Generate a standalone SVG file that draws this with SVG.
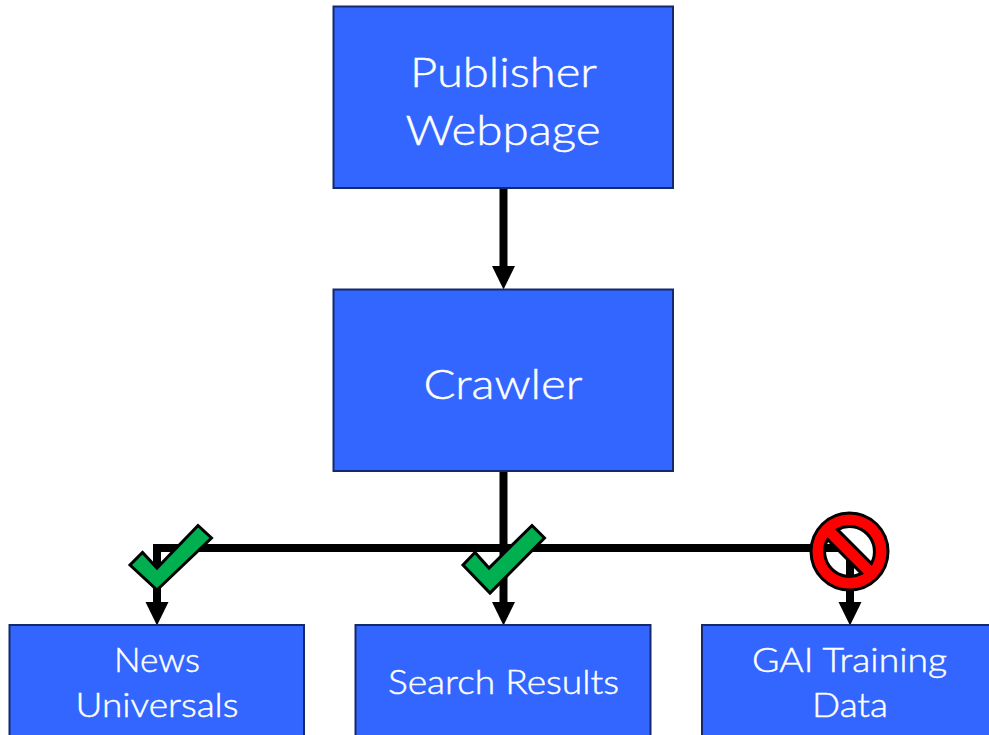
<svg xmlns="http://www.w3.org/2000/svg" width="989" height="735" viewBox="0 0 989 735">
<style>
.box{fill:#3366ff;stroke:#14296b;stroke-width:2}
.t{font-family:"Lato","Noto Sans",sans-serif;fill:#fff;stroke:#fff;stroke-width:.45;text-anchor:middle;font-weight:300}
.l{font-size:42px}
.s{font-size:33px}
.c{fill:none;stroke:#000;stroke-width:8}
.m{fill:#00b050;stroke:#000;stroke-width:3;stroke-linejoin:miter}
</style>
<defs>
<marker id="a" markerUnits="userSpaceOnUse" markerWidth="24" markerHeight="24" refX="8" refY="12" orient="auto" viewBox="0 0 24 24"><path d="M0 0.500L23.500 12L0 23.500Z" fill="#000"/></marker>
</defs>
<rect width="989" height="735" fill="#fff"/>
<g id="connectors">
<path class="c" d="M503.500 188V274" marker-end="url(#a)"/>
<path class="c" d="M503.500 471V610" marker-end="url(#a)"/>
<path class="c" d="M157 610V548H850V610" marker-end="url(#a)"/>
<path class="c" d="M157 548V610" marker-end="url(#a)"/>
</g>
<g id="publisher-webpage"><rect class="box" x="333.500" y="6.500" width="339.500" height="181.500"/>
<text class="t l" x="503.500" y="86.500" textLength="187" lengthAdjust="spacingAndGlyphs">Publisher</text>
<text class="t l" x="503" y="144.500" textLength="195" lengthAdjust="spacingAndGlyphs">Webpage</text></g>
<g id="crawler"><rect class="box" x="333.500" y="289.500" width="339.500" height="181.500"/>
<text class="t l" x="503" y="398.500" textLength="159" lengthAdjust="spacingAndGlyphs">Crawler</text></g>
<g id="news-universals"><rect class="box" x="9.500" y="625" width="294.500" height="130"/>
<text class="t s" x="157" y="672" textLength="86" lengthAdjust="spacingAndGlyphs">News</text>
<text class="t s" x="157" y="717" textLength="163" lengthAdjust="spacingAndGlyphs">Universals</text></g>
<g id="search-results"><rect class="box" x="355.500" y="625" width="295" height="130"/>
<text class="t s" x="503.500" y="694" textLength="231" lengthAdjust="spacingAndGlyphs">Search Results</text></g>
<g id="gai-training-data"><rect class="box" x="702" y="625" width="295" height="130"/>
<text class="t s" x="849.500" y="672" textLength="195" lengthAdjust="spacingAndGlyphs">GAI Training</text>
<text class="t s" x="850" y="717" textLength="76" lengthAdjust="spacingAndGlyphs">Data</text></g>
<g id="check-news"><path class="m" d="M198 525.500L211.500 538L157 590L130 565L142.500 552.500L157 568Z"/></g>
<g id="check-search"><path class="m" d="M532 525.500L544.500 538L490 593L463 565L475 552.500L489 568Z"/></g>
<g id="no-gai"><path fill="#f00" fill-rule="evenodd" stroke="#000" stroke-width="3" d="M811 551.500A38.500 38.500 0 1 1 888 551.500A38.500 38.500 0 1 1 811 551.500ZM837.500 529.600A25 25 0 0 1 871.400 563.500ZM861.500 573.400A25 25 0 0 1 827.600 539.500Z"/></g>
</svg>
